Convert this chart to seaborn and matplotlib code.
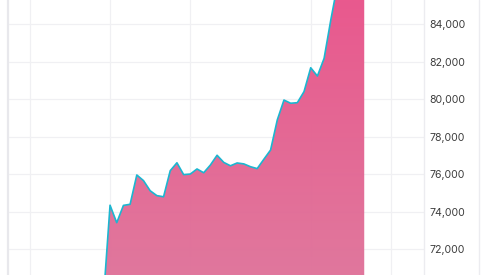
import numpy as np
import pandas as pd
import matplotlib
matplotlib.use("Agg")
import matplotlib.pyplot as plt
from matplotlib.colors import LinearSegmentedColormap
from matplotlib.lines import Line2D
import seaborn as sns

# ---- data ----
index = list(range(-1, 39))
values = [69300,
          74350, 73420, 74340, 74400, 75960, 75660, 75120, 74860, 74800, 76190,
          76610, 75980, 76010, 76280, 76080, 76490, 77010, 76630, 76450, 76600,
          76550, 76400, 76300, 76800, 77290, 78890, 79950, 79780, 79810, 80400,
          81670, 81230, 82170, 84210, 86100, 86900, 87500, 88200, 88900]
y_ticks = [72000, 74000, 76000, 78000, 80000, 82000, 84000]
x_grid = [-12, 0, 12, 30, 42]

df = pd.DataFrame({"i": index, "v": values})

sns.set_theme(style="white")
plt.rcParams["font.family"] = ["Inter", "DejaVu Sans"]

W, H = 487, 275
fig = plt.figure(figsize=(W / 100, H / 100), dpi=100)
ax = fig.add_axes([7.5 / W, 0, (424.3 - 7.5) / W, 1])

ax.set_xlim(-15.33, 46.98)
ax.set_ylim(70634, 85278)

# gradient fill under the line
poly = ax.fill_between(df["i"], df["v"], 60000, color="none", lw=0)
cmap = LinearSegmentedColormap.from_list("g", ["#df739a", "#e9548a"])
grad = np.linspace(0, 1, 256).reshape(-1, 1)
im = ax.imshow(grad, cmap=cmap, aspect="auto", origin="lower",
               extent=[-16, 48, 70634, 85278], alpha=0.97, zorder=2)
im.set_clip_path(poly.get_paths()[0], transform=ax.transData)

sns.lineplot(data=df, x="i", y="v", ax=ax, color="#1cb6d0", lw=1.2, zorder=3)

ax.set_xticks(x_grid)
ax.set_xticklabels([])
ax.set_yticks(y_ticks)
ax.set_yticklabels([f"{t:,}" for t in y_ticks])
ax.yaxis.tick_right()
ax.tick_params(axis="y", length=0, pad=4, labelsize=7.6, labelcolor="#3d3d3d")
ax.tick_params(axis="x", length=0)
ax.grid(True, color="#f0f0f3", lw=0.9)
ax.set_axisbelow(True)
ax.set_xlabel("")
ax.set_ylabel("")

for s in ["top", "bottom"]:
    ax.spines[s].set_visible(False)
ax.spines["left"].set_color("#e8e8ec")
ax.spines["left"].set_linewidth(1.6)
ax.spines["right"].set_color("#ececf0")
ax.spines["right"].set_linewidth(1.0)

fig.add_artist(Line2D([478.7 / W, 478.7 / W], [0, 1], color="#ececf0", lw=1.0,
                      transform=fig.transFigure))

fig.savefig("out.png", dpi=100, facecolor="white")
